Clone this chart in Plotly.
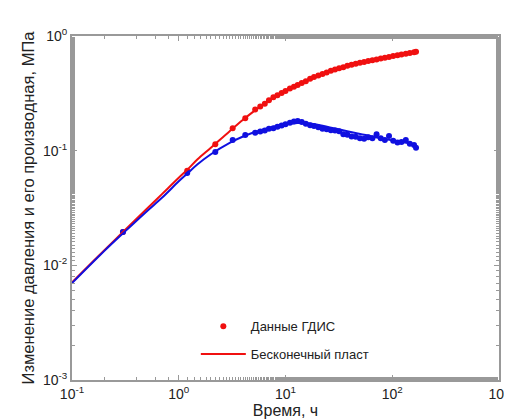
import plotly.graph_objects as go

# time, h
t_data = [0.3, 1.2, 2.2, 3.2, 4.2,
          5.2, 5.8, 6.4, 7.0, 7.7, 8.4, 9.2, 10.0, 11.0, 12.0,
          13.0, 14.2, 15.5, 17.0, 18.5, 20.3, 22.2, 24.3, 26.6, 29.1,
          31.8, 34.8, 38.0, 41.6, 45.5, 49.8, 54.5, 59.6, 65.2, 71.3,
          78.0, 85.3, 93.3, 102, 112, 122, 134, 146, 160, 167]
# pressure change, MPa
dp_data = [0.0195, 0.0668, 0.114, 0.157, 0.192,
           0.228, 0.243, 0.256, 0.275, 0.292, 0.305, 0.319, 0.332, 0.348, 0.361,
           0.374, 0.389, 0.404, 0.424, 0.438, 0.452, 0.466, 0.481, 0.497, 0.510,
           0.522, 0.535, 0.549, 0.562, 0.572, 0.583, 0.594, 0.604, 0.614, 0.625,
           0.636, 0.646, 0.657, 0.668, 0.680, 0.690, 0.701, 0.711, 0.721, 0.728]
# derivative, MPa
der_data = [0.0195, 0.064, 0.0975, 0.124, 0.137,
            0.143, 0.147, 0.150, 0.155, 0.157, 0.162, 0.166, 0.170, 0.175, 0.180,
            0.181, 0.178, 0.172, 0.167, 0.164, 0.160, 0.155, 0.154, 0.151, 0.150,
            0.148, 0.139, 0.138, 0.133, 0.132, 0.128, 0.127, 0.131, 0.128, 0.139,
            0.128, 0.124, 0.134, 0.122, 0.118, 0.119, 0.124, 0.115, 0.112, 0.106]

# model (infinite reservoir)
t_model = [0.1, 0.2, 0.3, 0.5, 0.7, 1.0, 1.2, 1.5, 2.0, 3.0, 4.0, 5.0, 7.0,
           10, 13, 15, 20, 30, 50, 70, 100, 167]
dp_model = [0.0071, 0.0135, 0.0195, 0.031, 0.042, 0.058, 0.068, 0.084, 0.106,
            0.148, 0.186, 0.219, 0.275, 0.335, 0.378, 0.402, 0.452, 0.520,
            0.585, 0.625, 0.670, 0.727]
der_model = [0.0070, 0.0133, 0.019, 0.0295, 0.039, 0.054, 0.063, 0.076, 0.093,
             0.117, 0.133, 0.144, 0.158, 0.170, 0.174, 0.174, 0.168, 0.155,
             0.140, 0.131, 0.123, 0.113]

decades = [-3, -2, -1, 0, 1, 2, 3]
tick_text = {d: "10<sup>%d</sup>" % d for d in decades}

RED = "#f01010"
BLUE = "#1010e0"

fig = go.Figure()
fig.add_trace(go.Scatter(x=t_data, y=dp_data, mode="markers", name="Данные ГДИС",
                         marker=dict(color=RED, size=6), legendgroup="a"))
fig.add_trace(go.Scatter(x=t_data, y=der_data, mode="markers", showlegend=False,
                         marker=dict(color=BLUE, size=6)))
fig.add_trace(go.Scatter(x=t_model, y=dp_model, mode="lines", name="Бесконечный пласт",
                         line=dict(color=RED, width=2, shape="spline"), legendgroup="b"))
fig.add_trace(go.Scatter(x=t_model, y=der_model, mode="lines", showlegend=False,
                         line=dict(color=BLUE, width=2, shape="spline")))

axis_common = dict(
    type="log",
    showline=True, linecolor="#999999", linewidth=2, mirror="ticks",
    ticks="inside", ticklen=5, tickcolor="#999999",
    minor=dict(ticks="inside", ticklen=3, tickcolor="#999999", showgrid=False),
    showgrid=False, zeroline=False,
    tickfont=dict(size=14, color="#222222"),
)

fig.update_xaxes(range=[-1, 3], tickvals=[10 ** d for d in [-1, 0, 1, 2, 3]],
                 ticktext=[tick_text[d] for d in [-1, 0, 1, 2, 3]],
                 title=dict(text="Время, ч", font=dict(size=16), standoff=4),
                 **axis_common)
fig.update_yaxes(range=[-3, 0], tickvals=[10 ** d for d in [-3, -2, -1, 0]],
                 ticktext=[tick_text[d] for d in [-3, -2, -1, 0]],
                 title=dict(text="Изменение давления и его производная, МПа",
                            font=dict(size=16.5), standoff=4),
                 **axis_common)

fig.update_layout(
    width=512, height=419,
    margin=dict(l=64, r=10, t=28, b=44),
    paper_bgcolor="white", plot_bgcolor="white",
    font=dict(family="Liberation Sans, Arial", color="#222222"),
    legend=dict(x=0.29, y=0.2, xanchor="left", yanchor="top",
                bgcolor="rgba(0,0,0,0)", font=dict(size=13),
                tracegroupgap=8, itemwidth=45),
)

fig.write_html("out.html")
